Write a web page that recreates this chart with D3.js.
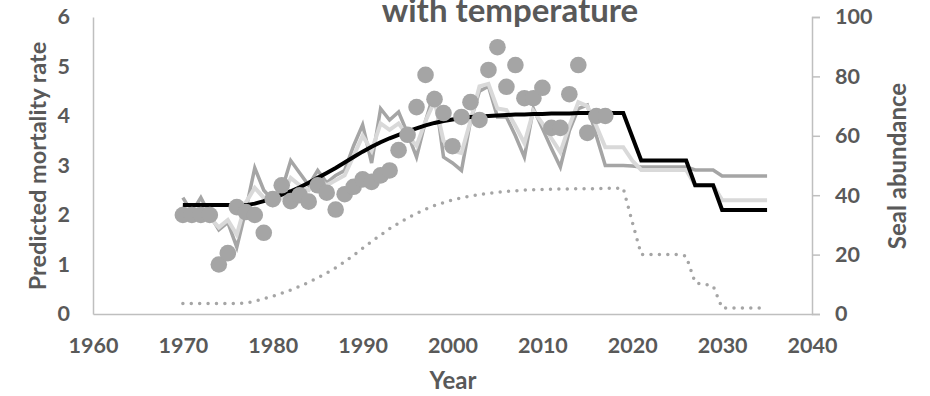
<!DOCTYPE html>
<html>
<head>
<meta charset="utf-8">
<script src="https://cdn.jsdelivr.net/npm/d3@7"></script>
<style>
    body { margin: 0; background: #fff; }
    text { font-family: Lato, "Open Sans", sans-serif; font-weight: bold; fill: #595959; }
</style>
</head>
<body>
<div id="chart"></div>
<script>
// model years
var years = [1970, 1971, 1972, 1973, 1974, 1975, 1976, 1977, 1978, 1979,
    1980, 1981, 1982, 1983, 1984, 1985, 1986, 1987, 1988, 1989,
    1990, 1991, 1992, 1993, 1994, 1995, 1996, 1997, 1998, 1999,
    2000, 2001, 2002, 2003, 2004, 2005, 2006, 2007, 2008, 2009,
    2010, 2011, 2012, 2013, 2014, 2015, 2016, 2017, 2018, 2019,
    2020, 2021, 2022, 2023, 2024, 2025, 2026, 2027, 2028, 2029,
    2030, 2031, 2032, 2033, 2034, 2035];

// predicted mortality (black)
var mortality = [2.2, 2.2, 2.2, 2.2, 2.2, 2.2, 2.2, 2.2, 2.23, 2.28,
    2.34, 2.41, 2.48, 2.56, 2.65, 2.75, 2.85, 2.95, 3.06, 3.17,
    3.28, 3.38, 3.47, 3.55, 3.62, 3.69, 3.75, 3.81, 3.86, 3.9,
    3.93, 3.96, 3.98, 3.99, 4.0, 4.01, 4.02, 4.03, 4.03, 4.04,
    4.04, 4.05, 4.05, 4.05, 4.06, 4.06, 4.06, 4.06, 4.06, 4.06,
    3.58, 3.1, 3.1, 3.1, 3.1, 3.1, 3.1, 2.6, 2.6, 2.6,
    2.1, 2.1, 2.1, 2.1, 2.1, 2.1];

// with temperature (dark grey)
var mortalityTemp = [2.35, 2.05, 2.35, 2.0, 1.7, 1.85, 1.35, 2.1, 2.95, 2.5,
    2.3, 2.5, 3.1, 2.85, 2.6, 2.9, 2.65, 2.8, 2.9, 3.4,
    3.82, 3.05, 4.15, 3.92, 4.08, 3.65, 3.17, 3.9, 4.5, 3.17,
    3.05, 2.9, 3.9, 4.5, 4.6, 3.98, 3.98, 3.6, 3.17, 4.15,
    3.75, 3.35, 2.97, 3.7, 4.15, 4.22, 3.6, 3.0, 3.0, 3.0,
    2.99, 2.97, 2.97, 2.97, 2.97, 2.97, 2.97, 2.91, 2.91, 2.91,
    2.79, 2.79, 2.79, 2.79, 2.79, 2.79];

// with temperature, second run (light grey)
var mortalityTemp2 = [2.2, 2.05, 2.2, 1.95, 1.75, 1.9, 1.6, 2.25, 2.55, 2.35,
    2.2, 2.35, 2.75, 2.6, 2.5, 2.75, 2.6, 2.7, 2.8, 3.2,
    3.6, 3.3, 3.85, 3.72, 3.85, 3.6, 3.4, 3.9, 4.3, 3.5,
    3.3, 3.25, 3.9, 4.6, 4.65, 4.15, 4.12, 3.8, 3.45, 4.1,
    3.85, 3.55, 3.27, 3.8, 4.28, 4.2, 3.8, 3.37, 3.37, 3.37,
    3.1, 2.91, 2.91, 2.91, 2.91, 2.91, 2.91, 2.6, 2.6, 2.6,
    2.3, 2.3, 2.3, 2.3, 2.3, 2.3];

// seal abundance (dotted, right axis)
var seals = [3.5, 3.5, 3.5, 3.5, 3.5, 3.5, 3.5, 3.7, 4.3, 5.1,
    6.0, 7.0, 8.1, 9.3, 10.7, 12.2, 13.8, 15.6, 17.6, 19.8,
    22.1, 24.4, 26.6, 28.7, 30.6, 32.3, 33.9, 35.3, 36.5, 37.5,
    38.4, 39.1, 39.7, 40.2, 40.6, 41.0, 41.3, 41.5, 41.7, 41.8,
    41.9, 42.0, 42.1, 42.1, 42.2, 42.2, 42.2, 42.3, 42.3, 42.3,
    31, 20, 20, 20, 20, 20, 19.5, 10.5, 10, 9.5,
    2, 2, 2, 2, 2, 2];

// observed points
var obsYears = [1970, 1971, 1972, 1973, 1974, 1975, 1976, 1977, 1978, 1979,
    1980, 1981, 1982, 1983, 1984, 1985, 1986, 1987, 1988, 1989,
    1990, 1991, 1992, 1993, 1994, 1995, 1996, 1997, 1998, 1999,
    2000, 2001, 2002, 2003, 2004, 2005, 2006, 2007, 2008, 2009,
    2010, 2011, 2012, 2013, 2014, 2015, 2016, 2017];
var observed = [2.0, 2.0, 2.0, 2.0, 1.0, 1.23, 2.16, 2.06, 2.0, 1.64,
    2.32, 2.6, 2.28, 2.4, 2.27, 2.6, 2.45, 2.11, 2.42, 2.57,
    2.72, 2.67, 2.8, 2.9, 3.31, 3.62, 4.18, 4.83, 4.34, 4.06,
    3.39, 3.98, 4.28, 3.92, 4.93, 5.39, 4.59, 5.03, 4.36, 4.36,
    4.57, 3.76, 3.76, 4.44, 5.03, 3.66, 4.0, 4.0];

var xTicks = [1960, 1970, 1980, 1990, 2000, 2010, 2020, 2030, 2040];
var yTicks = [0, 1, 2, 3, 4, 5, 6];
var sealTicks = [0, 20, 40, 60, 80, 100];

var width = 930, height = 396;
var margin = {top: 17, bottom: 82, left: 93, right: 118};
var w = width - margin.left - margin.right;
var h = height - margin.top - margin.bottom;

var svg = d3.select("#chart")
    .append("svg")
    .attr("width", width)
    .attr("height", height);

var g = svg.append("g")
    .attr("transform", "translate(" + margin.left + "," + margin.top + ")");

var x = d3.scaleLinear().domain([1960, 2040]).range([0, w]);
var y = d3.scaleLinear().domain([0, 6]).range([h, 0]);
var y2 = d3.scaleLinear().domain([0, 100]).range([h, 0]);

// axes
g.append("g")
    .attr("class", "x-axis")
    .attr("transform", "translate(0," + h + ")")
    .call(d3.axisBottom(x).tickValues(xTicks).tickFormat(d3.format("d"))
	  .tickSize(0).tickPadding(24));

g.append("g")
    .attr("class", "y-axis")
    .call(d3.axisLeft(y).tickValues(yTicks).tickFormat(d3.format("d"))
	  .tickSize(0).tickPadding(23));

g.append("g")
    .attr("class", "y2-axis")
    .attr("transform", "translate(" + w + ",0)")
    .call(d3.axisRight(y2).tickValues(sealTicks).tickSize(8).tickSizeOuter(8).tickPadding(15));

g.selectAll(".domain, .tick line")
    .attr("stroke", "#bfbfbf")
    .attr("stroke-width", 1.5);

g.selectAll(".tick text")
    .attr("font-size", 21.5)
    .attr("fill", "#595959");

// lines
var line = function(vals) {
    return d3.line()
	.x((d, i) => x(years[i]))
	.y(d => y(d))(vals);
};

g.append("path")
    .attr("d", line(mortalityTemp))
    .attr("fill", "none")
    .attr("stroke", "#a5a5a5")
    .attr("stroke-width", 3.5);

g.append("path")
    .attr("d", line(mortalityTemp2))
    .attr("fill", "none")
    .attr("stroke", "#d9d9d9")
    .attr("stroke-width", 4);

g.append("path")
    .attr("d", line(mortality))
    .attr("fill", "none")
    .attr("stroke", "#000")
    .attr("stroke-width", 4);

g.selectAll("circle.obs")
    .data(observed)
    .enter()
    .append("circle")
    .attr("class", "obs")
    .attr("cx", (d, i) => x(obsYears[i]))
    .attr("cy", d => y(d))
    .attr("r", 8.3)
    .attr("fill", "#a5a5a5");

g.append("path")
    .attr("d", d3.line().x((d, i) => x(years[i])).y(d => y2(d))(seals))
    .attr("fill", "none")
    .attr("stroke", "#a5a5a5")
    .attr("stroke-width", 3.5)
    .attr("stroke-linecap", "round")
    .attr("stroke-dasharray", "0 8.4");

// labels (title is cut at the top edge, as in the original)
svg.append("text")
    .attr("x", 510)
    .attr("y", 22)
    .attr("font-size", 33)
    .attr("text-anchor", "middle")
    .text("with temperature");

svg.append("text")
    .attr("transform", "translate(46,166) rotate(-90)")
    .attr("font-size", 23.5)
    .attr("text-anchor", "middle")
    .text("Predicted mortality rate");

svg.append("text")
    .attr("transform", "translate(906,166) rotate(-90)")
    .attr("font-size", 24)
    .attr("text-anchor", "middle")
    .text("Seal abundance");

svg.append("text")
    .attr("x", 453)
    .attr("y", 389)
    .attr("font-size", 24)
    .attr("text-anchor", "middle")
    .text("Year");
</script>
</body>
</html>
